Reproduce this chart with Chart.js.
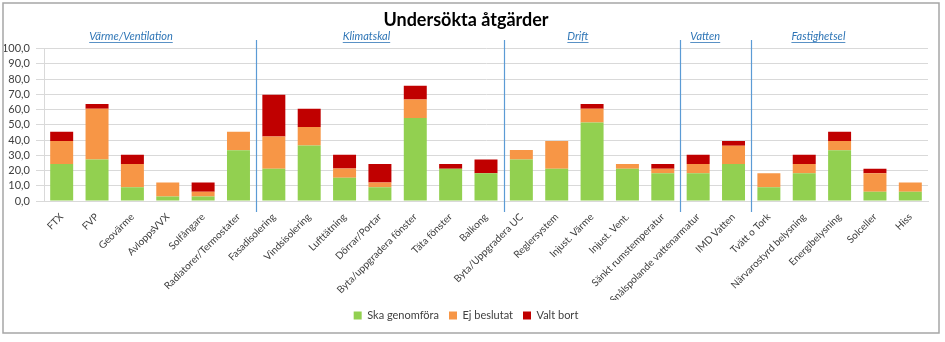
<!DOCTYPE html>
<html>
<head>
<meta charset="utf-8">
<script src="https://cdn.jsdelivr.net/npm/chart.js@4"></script>
<style>
  body { margin: 0; background: #fff; }
  #wrap { width: 945px; height: 342px; }
</style>
</head>
<body>
<div id="wrap"><canvas id="chart" width="945" height="342"></canvas></div>
<script>
// kategorier
var categories = ['FTX', 'FVP', 'Geovärme', 'AvloppsVVX', 'Solfångare', 'Radiatorer/Termostater',
  'Fasadisolering', 'Vindsisolering', 'Lufttätning', 'Dörrar/Portar', 'Byta/uppgradera fönster',
  'Täta fönster', 'Balkong', 'Byta/Uppgradera UC', 'Reglersystem', 'Injust. Värme', 'Injust. Vent.',
  'Sänkt rumstemperatur', 'Snålspolande vattenarmatur', 'IMD Vatten', 'Tvätt o Tork',
  'Närvarostyrd belysning', 'Energibelysning', 'Solceller', 'Hiss'];

var skaGenomfora = [24.2, 27.3, 9.1, 3.0, 3.0, 33.3, 21.2, 36.4, 15.2, 9.1, 54.5, 21.2, 18.2,
  27.3, 21.2, 51.5, 21.2, 18.2, 18.2, 24.2, 9.1, 18.2, 33.3, 6.1, 6.1];
var ejBeslutat = [15.2, 33.3, 15.2, 9.1, 3.0, 12.1, 21.2, 12.1, 6.1, 3.0, 12.1, 0, 0,
  6.1, 18.2, 9.1, 3.0, 3.0, 6.1, 12.1, 9.1, 6.1, 6.1, 12.1, 6.1];
var valtBort = [6.1, 3.0, 6.1, 0, 6.1, 0, 27.3, 12.1, 9.1, 12.1, 9.1, 3.0, 9.1,
  0, 0, 3.0, 0, 3.0, 6.1, 3.0, 0, 6.1, 6.1, 3.0, 0];

// grupper: namn, första index, etikettens position (kategoriindex)
var groupNames = ['Värme/Ventilation', 'Klimatskal', 'Drift', 'Vatten', 'Fastighetsel'];
var groupStarts = [0, 6, 13, 18, 20];
var groupLabelAt = [1.96, 8.62, 14.6, 18.2, 21.4];

var font = 'Lato, "Open Sans", sans-serif';

var groupPlugin = {
  id: 'groups',
  beforeDraw: function (chart) {
    var c = chart.ctx;
    c.save();
    c.strokeStyle = '#a6a6a6';
    c.lineWidth = 1.5;
    c.strokeRect(3, 3, 936, 330);
    c.restore();
  },
  afterDatasetsDraw: function (chart) {
    var c = chart.ctx, x = chart.scales.x;
    c.save();
    // skiljelinjer
    c.strokeStyle = '#5b9bd5';
    c.lineWidth = 1.2;
    for (var i = 1; i < groupStarts.length; i++) {
      var px = (x.getPixelForValue(groupStarts[i] - 1) + x.getPixelForValue(groupStarts[i])) / 2;
      c.beginPath();
      c.moveTo(Math.round(px) + 0.5, 40);
      c.lineTo(Math.round(px) + 0.5, 212);
      c.stroke();
    }
    // gruppetiketter
    c.font = 'italic 11px ' + font;
    c.fillStyle = '#2e75b6';
    c.strokeStyle = '#2e75b6';
    c.lineWidth = 0.8;
    c.textAlign = 'center';
    c.textBaseline = 'alphabetic';
    for (var j = 0; j < groupNames.length; j++) {
      var cx = x.left + (groupLabelAt[j] + 0.5) * (x.width / categories.length);
      c.fillText(groupNames[j], cx, 40);
      var w = c.measureText(groupNames[j]).width;
      c.beginPath();
      c.moveTo(cx - w / 2, 42.5);
      c.lineTo(cx + w / 2, 42.5);
      c.stroke();
    }
    c.restore();
  }
};

new Chart(document.getElementById('chart'), {
  type: 'bar',
  data: {
    labels: categories,
    datasets: [{
      label: 'Ska genomföra',
      data: skaGenomfora,
      backgroundColor: '#92d050'
    }, {
      label: 'Ej beslutat',
      data: ejBeslutat,
      backgroundColor: '#f79646'
    }, {
      label: 'Valt bort',
      data: valtBort,
      backgroundColor: '#c00000'
    }]
  },
  options: {
    responsive: false,
    animation: false,
    layout: { padding: { left: 4, right: 17, top: 0, bottom: 11 } },
    datasets: { bar: { categoryPercentage: 1, barPercentage: 0.65 } },
    plugins: {
      title: {
        display: true,
        text: 'Undersökta åtgärder',
        color: '#000',
        font: { family: font, size: 18, weight: 'bold' },
        padding: { top: 9, bottom: 18 }
      },
      legend: {
        position: 'bottom',
        labels: {
          boxWidth: 8, boxHeight: 8, padding: 10,
          color: '#404040',
          font: { family: font, size: 11 }
        }
      },
      tooltip: { enabled: false }
    },
    scales: {
      x: {
        stacked: true,
        grid: { display: false },
        border: { display: true, color: '#d9d9d9' },
        ticks: {
          color: '#404040',
          font: { family: font, size: 10 },
          maxRotation: 45, minRotation: 45, autoSkip: false, padding: 2
        },
        afterFit: function (s) { s.height = 99; }
      },
      y: {
        stacked: true,
        min: 0, max: 100,
        grid: { color: '#d9d9d9' },
        border: { display: true, color: '#d9d9d9' },
        ticks: {
          stepSize: 10,
          autoSkip: false,
          color: '#404040',
          font: { family: font, size: 11 },
          padding: 6,
          callback: function (v) { return v.toFixed(1).replace('.', ','); }
        },
        afterFit: function (s) { s.width = 40; }
      }
    }
  },
  plugins: [groupPlugin]
});
</script>
</body>
</html>
